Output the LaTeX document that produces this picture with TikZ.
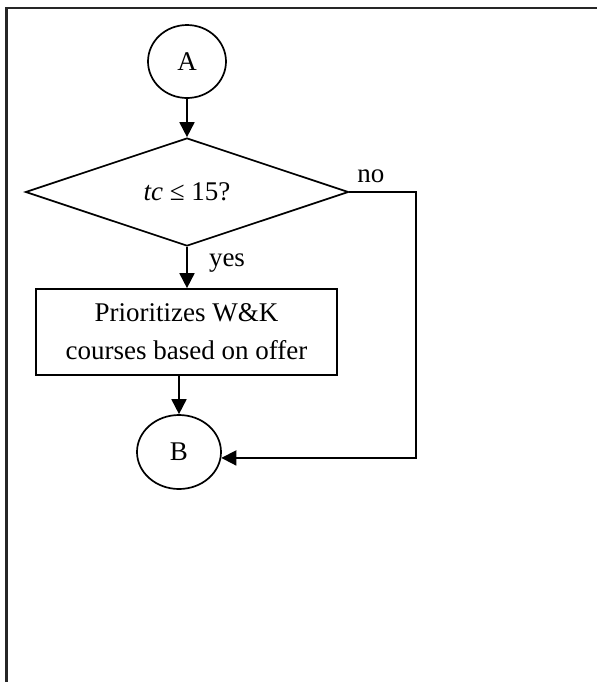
\documentclass[tikz,border=0pt]{standalone}
\usepackage{fontspec}
\setmainfont{Liberation Serif}
\usetikzlibrary{shapes.geometric,arrows.meta}
\begin{document}
\begin{tikzpicture}[x=0.5pt,y=-0.5pt,
  every node/.style={font=\fontsize{13.5}{19}\selectfont, inner sep=0pt},
  conn/.style={draw, ellipse, line width=0.85pt},
  dec/.style={draw, diamond, line width=0.85pt},
  proc/.style={draw, rectangle, line width=0.85pt, align=center},
  arr/.style={line width=0.9pt, -{Triangle[length=7.5pt,width=7.5pt]}},
  lbl/.style={}]
\useasboundingbox (0,0) rectangle (597,682);
\draw[line width=1.1pt, black!85] (600,8) -- (6.5,8) -- (6.5,690);
\node[conn, minimum width=39pt, minimum height=36.5pt] (A) at (187,61.5) {A};
\node[dec, minimum width=161.5pt, minimum height=54pt] (D) at (187,192) {\textit{tc} ≤ 15?};
\node[proc, minimum width=150.5pt, minimum height=43pt] (P) at (186.5,332) {Prioritizes W\&K\\courses based on offer};
\node[conn, minimum width=42pt, minimum height=37pt] (B) at (179,452) {B};
\coordinate (nc) at (416,192);
\draw[arr] (A) -- (D);
\draw[arr] (D.south) -- (D.south |- P.north);
\draw[arr] (B.north |- P.south) -- (B.north);
\draw[arr] (D.east) -- (nc) |- (B.-8);
\node[lbl] (yes) at (227,263) {yes};
\node[lbl] (no) at (371,176) {no};
\end{tikzpicture}
\end{document}
